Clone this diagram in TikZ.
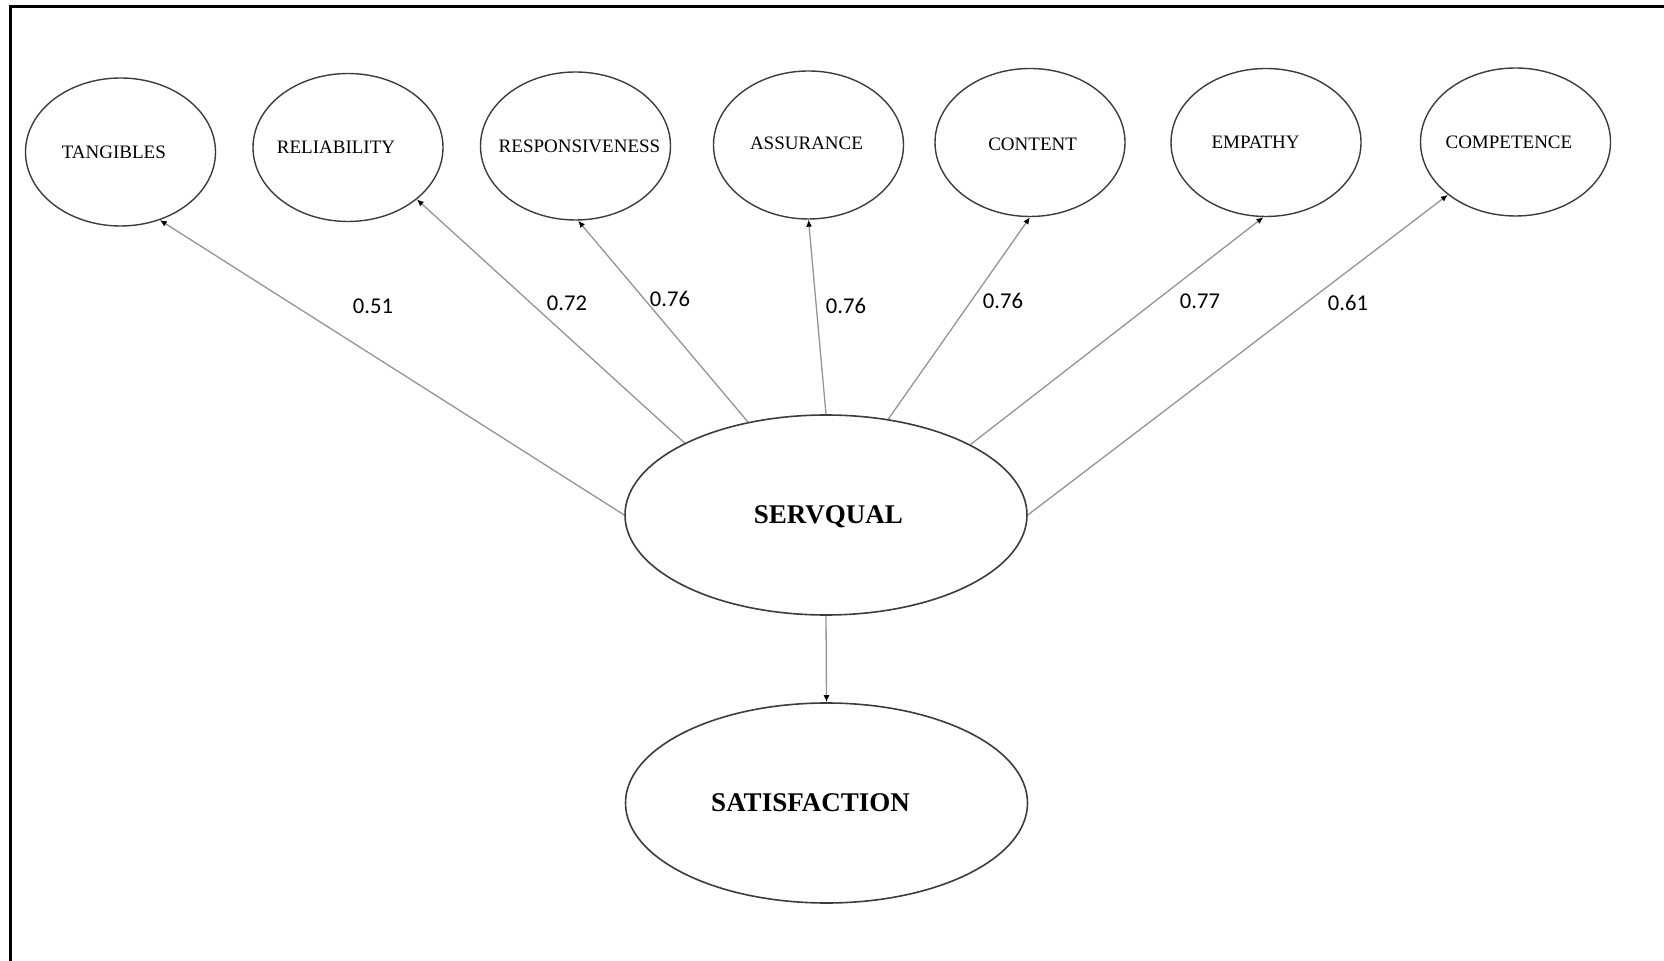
\documentclass[tikz,border=0pt]{standalone}
\usepackage{fontspec}
\setmainfont{Liberation Serif}
\newfontfamily\numfont{Carlito}
\usetikzlibrary{shapes.geometric,arrows.meta}
\definecolor{outline}{HTML}{3C3C3C}
\definecolor{linkgray}{HTML}{949494}
% text set in a box of zero width (optionally moved sideways),
% so the ellipse keeps its own size
\newcommand{\inbox}[2][0pt]{\makebox[0pt]{\kern#1\relax#2\kern-#1\relax}}
\tikzset{
  factor/.style={ellipse, draw=outline, line width=0.7pt,
    minimum width=95pt, minimum height=74pt, inner sep=0pt,
    font=\fontsize{9.5}{11}\selectfont, text depth=0pt},
  latent/.style={ellipse, draw=outline, line width=0.8pt,
    minimum width=201pt, minimum height=100pt, inner sep=0pt,
    font=\fontsize{13.5}{16}\selectfont\bfseries, text depth=0pt},
  loading/.style={draw=linkgray, line width=0.65pt,
    -{Latex[length=3.5pt,width=3pt,color=black]}},
  coef/.style={font=\numfont\fontsize{11.3}{13}\selectfont, inner sep=0pt},
}
\begin{document}
\begin{tikzpicture}[x=0.5pt,y=-0.5pt]
  \useasboundingbox (0,0) rectangle (1664,961);
  % frame (top and left edges)
  \draw[line width=1.5pt] (10.5,961) -- (10.5,6.5) -- (1664,6.5);

  % first-order factors
  \node[factor] (tang)  at (120.5,152)  {\inbox[-3.3pt]{TANGIBLES}};
  \node[factor] (rel)   at (348,147.5)  {\inbox[-6pt]{RELIABILITY}};
  \node[factor] (resp)  at (575.5,146)  {\inbox[2pt]{RESPONSIVENESS}};
  \node[factor] (assur) at (808.5,145)  {\inbox[-1pt]{\raisebox{1.5pt}{ASSURANCE}}};
  \node[factor] (cont)  at (1030,142.5) {\inbox[1.3pt]{\raisebox{-1.8pt}{CONTENT}}};
  \node[factor] (emp)   at (1266,142.5) {\inbox[-5.2pt]{EMPATHY}};
  \node[factor] (comp)  at (1515.5,142) {\inbox[-3.3pt]{COMPETENCE}};

  % second-order construct and outcome
  \node[latent] (serv) at (826,515)   {\inbox[1.2pt]{SERVQUAL}};
  \node[latent] (sat)  at (826.5,803) {\inbox[-8pt]{SATISFACTION}};

  % loadings
  \draw[loading] (serv.180)   -- (tang.-60.4);
  \draw[loading] (serv.153.3) -- (rel.-37.9);
  \draw[loading] (serv.130.4) -- (resp.-88);
  \draw[loading] (serv.90)    -- (assur.-90);
  \draw[loading] (serv.57.8)  -- (cont.-90);
  \draw[loading] (serv.26.4)  -- (emp.-92);
  \draw[loading] (serv.0)     -- (comp.-142.4);
  \draw[loading] (serv.south) -- (sat.north);

  % coefficients
  \node[coef] (c1) at (373,306)  {0.51};
  \node[coef] (c2) at (567,303)  {0.72};
  \node[coef] (c3) at (670,299)  {0.76};
  \node[coef] (c4) at (846,306)  {0.76};
  \node[coef] (c5) at (1003,301) {0.76};
  \node[coef] (c6) at (1200,301) {0.77};
  \node[coef] (c7) at (1348,303) {0.61};
\end{tikzpicture}
\end{document}
